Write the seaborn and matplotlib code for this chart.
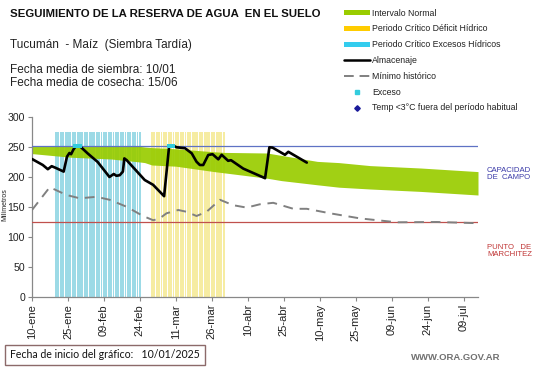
import matplotlib
matplotlib.use("Agg")
import matplotlib.pyplot as plt
import seaborn as sns
import pandas as pd
from matplotlib.lines import Line2D
from matplotlib.patches import Patch

sns.set_theme(style="white")
plt.rcParams['font.family'] = ['Liberation Sans', 'DejaVu Sans']

# ---------------- data (day offsets from 10-ene-2025) ----------------
alm_days = [0, 4.5, 6.6, 8.2, 10, 13.2, 14.6, 15.6, 16.3, 17.3, 18.4, 19.8, 23.3, 27.4,
            32.3, 34.1, 35.2, 36.6, 37.9, 38.5, 39.5, 47, 50.5, 55.1, 57.2, 59, 60.3,
            63.8, 66.6, 68.6, 70, 71.4, 73.5, 75.3, 77.7, 79.1, 81.8, 83, 88.1, 97.2,
            99, 100.3, 105.5, 106.9, 114.6]
alm_vals = [230, 220, 213, 218, 215, 209, 234, 240, 238, 246, 252, 252, 239, 225,
            200, 205, 202, 203, 209, 231, 228, 195, 187, 168, 252, 252, 249.5,
            248, 239.5, 225.5, 220, 220, 236.7, 238, 229.5, 237, 227, 228, 214, 198,
            249.5, 249, 237, 242, 224]

min_days = [0, 7.4, 14.4, 19.9, 26.9, 32.4, 39.4, 46.3, 50.5, 52.9, 56.1, 61, 64.5,
            68.6, 72.8, 78.4, 83.9, 89.5, 95, 100.6, 109, 114.6, 124.3, 136.8, 152.2,
            168.9, 186]
min_vals = [145, 183, 170, 164.5, 167, 162, 150.5, 135, 128, 130, 139.5, 145, 142,
            135, 142, 162, 153, 149, 154.5, 157, 147, 147, 139.5, 131, 124.5,
            125, 123]

band_days = [0, 16, 33, 45, 47, 50, 60, 76, 80, 98, 104, 119, 128, 141, 162, 186]
band_top = [251, 251, 251, 251, 250, 249, 247, 242, 241, 240, 236, 226, 224, 219, 215, 209]
band_bot = [239, 233, 230, 225, 224, 220, 218, 209, 207, 198, 194, 187, 183, 180, 176, 170]

exceso_days = [18, 19, 20, 57, 58, 59]
exceso_vals = [252, 252, 252, 252, 252, 252]

capacidad_campo = 251
punto_marchitez = 125

deficit_days = list(range(50, 81))
excesos_days = list(range(10, 46))
critico_altura = 275

tick_days = [0, 15, 30, 45, 60, 75, 90, 105, 120, 135, 150, 165, 180]
tick_labels = ["10-ene", "25-ene", "09-feb", "24-feb", "11-mar", "26-mar", "10-abr",
               "25-abr", "10-may", "25-may", "09-jun", "24-jun", "09-jul"]

# ---------------- figure ----------------
W, H = 541, 368
fig = plt.figure(figsize=(W / 100, H / 100), dpi=100)
ax = fig.add_axes([32 / W, 1 - 297 / H, (478 - 32) / W, 180 / H])

# critical periods (daily bars)
ax.bar(excesos_days, [critico_altura] * len(excesos_days), width=0.8,
       color="#9cdae6", linewidth=0, zorder=1)
ax.bar(deficit_days, [critico_altura] * len(deficit_days), width=0.8,
       color="#f6eca2", linewidth=0, zorder=1)

# normal interval band
ax.fill_between(band_days, band_bot, band_top, color="#99cc00", alpha=0.92,
                linewidth=0, zorder=2)

# reference lines
ax.axhline(capacidad_campo, color="#5f72c4", lw=0.9, zorder=3)
ax.axhline(punto_marchitez, color="#c0504d", lw=0.9, zorder=3)

# minimum historical
min_df = pd.DataFrame({"dia": min_days, "mm": min_vals})
sns.lineplot(data=min_df, x="dia", y="mm", ax=ax, color="#808080", lw=1.4,
             dashes=False, zorder=4)
ax.lines[-1].set_dashes([5, 3.5])

# storage
alm_df = pd.DataFrame({"dia": alm_days, "mm": alm_vals})
sns.lineplot(data=alm_df, x="dia", y="mm", ax=ax, color="black", lw=1.9, zorder=5)

# excess markers
exc_df = pd.DataFrame({"dia": exceso_days, "mm": exceso_vals})
sns.scatterplot(data=exc_df, x="dia", y="mm", ax=ax, color="#33ccdd", marker="s",
                s=12, linewidth=0, zorder=6)

ax.set_xlim(0, 186)
ax.set_ylim(0, 300)
ax.set_yticks([0, 50, 100, 150, 200, 250, 300])
ax.set_xticks(tick_days)
ax.set_xticklabels(tick_labels, rotation=90, fontsize=8, color="#222222")
ax.tick_params(axis="y", labelsize=7.6, colors="#222222")
ax.tick_params(axis="both", which="major", direction="out", length=3, width=0.8,
               color="#888888", pad=2, bottom=True, left=True)
ax.set_xlabel("")
ax.set_ylabel("")
for s in ["top", "right"]:
    ax.spines[s].set_visible(False)
for s in ["left", "bottom"]:
    ax.spines[s].set_color("#888888")
    ax.spines[s].set_linewidth(0.9)

# ---------------- texts ----------------
def fx(x):
    return x / W

def fy(y):
    return 1 - y / H

fig.text(fx(5), fy(205), "Milímetros", fontsize=5.0, rotation=90, va="center",
         ha="center", color="#222222")

fig.text(fx(10), fy(14), "SEGUIMIENTO DE LA RESERVA DE AGUA  EN EL SUELO",
         fontsize=8.2, fontweight="bold", va="center", ha="left", color="#111111")
fig.text(fx(10), fy(45), "Tucumán  - Maíz  (Siembra Tardía)", fontsize=8.5,
         va="center", ha="left", color="#222222")
fig.text(fx(10), fy(70), "Fecha media de siembra: 10/01", fontsize=8.5,
         va="center", ha="left", color="#222222")
fig.text(fx(10), fy(83), "Fecha media de cosecha: 15/06", fontsize=8.5,
         va="center", ha="left", color="#222222")

fig.text(fx(487), fy(174), "CAPACIDAD\nDE  CAMPO", fontsize=5.6, color="#3a3aa8",
         va="center", ha="left", linespacing=1.1)
fig.text(fx(487), fy(251), "PUNTO   DE\nMARCHITEZ", fontsize=5.6, color="#c03535",
         va="center", ha="left", linespacing=1.1)

fig.text(fx(10), fy(355), "Fecha de inicio del gráfico:   10/01/2025", fontsize=7.6,
         family=["Lato", "DejaVu Sans"], va="center", ha="left", color="#111111",
         bbox=dict(boxstyle="square,pad=0.45", fc="white", ec="#8c6a6a", lw=1.0))
fig.text(fx(500), fy(358), "WWW.ORA.GOV.AR", fontsize=6.8, color="#707070",
         fontweight="bold", va="center", ha="right")

# ---------------- legend ----------------
handles = [
    Patch(facecolor="#99cc00", edgecolor="none"),
    Patch(facecolor="#ffcc00", edgecolor="none"),
    Patch(facecolor="#33ccee", edgecolor="none"),
    Line2D([], [], color="black", lw=1.8),
    Line2D([], [], color="#808080", lw=1.4, dashes=[5, 3]),
    Line2D([], [], color="#33ccdd", marker="s", ms=2.5, lw=0),
    Line2D([], [], color="#1a1a9a", marker="D", ms=2.8, lw=0),
]
labels = ["Intervalo Normal", "Periodo Crítico Déficit Hídrico",
          "Periodo Crítico Excesos Hídricos", "Almacenaje", "Mínimo histórico",
          "Exceso", "Temp <3°C fuera del período habitual"]
leg = fig.legend(handles, labels, loc="upper left", bbox_to_anchor=(fx(340), fy(5)),
                 frameon=False, fontsize=6.3, handlelength=3.0, handleheight=0.5,
                 handletextpad=0.3, labelspacing=0.78, borderaxespad=0)
for t in leg.get_texts():
    t.set_color("#222222")

fig.savefig("out.png", dpi=100, facecolor="white")
